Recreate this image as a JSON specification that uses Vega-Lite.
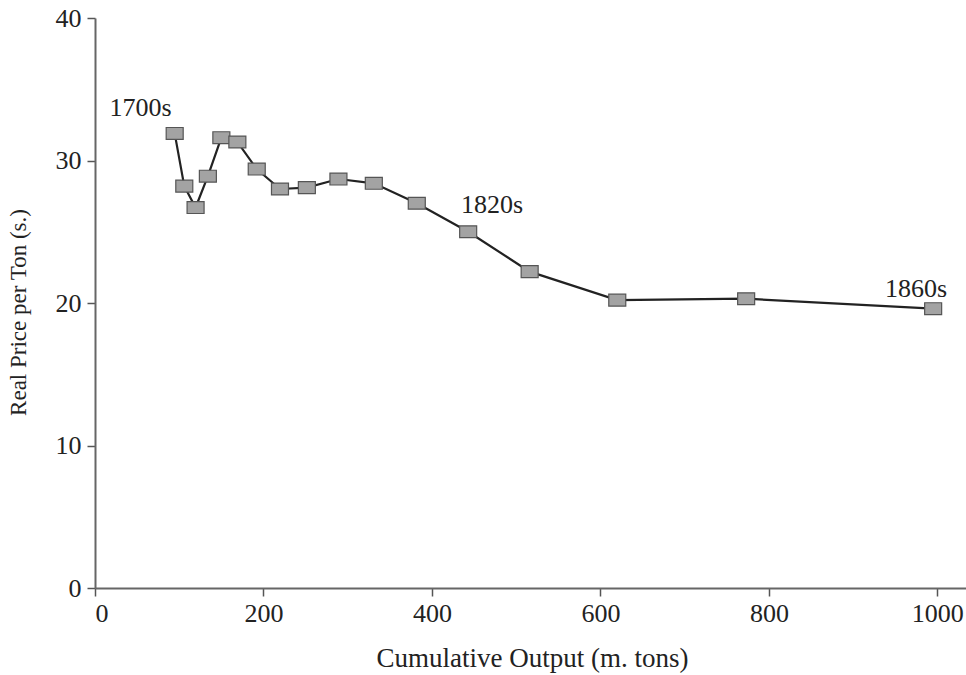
{
  "$schema": "https://vega.github.io/schema/vega-lite/v6.json",
  "autosize": {"type": "none"},
  "padding": {"left": 95, "top": 18, "right": 0, "bottom": 87},
  "width": 871,
  "height": 570,
  "background": "white",
  "config": {
    "view": {"stroke": null},
    "font": "Liberation Serif",
    "text": {"font": "Liberation Serif"},
    "axis": {
      "labelFont": "Liberation Serif",
      "titleFont": "Liberation Serif",
      "labelFontSize": 26,
      "titleFontSize": 26,
      "titleFontWeight": "normal",
      "labelColor": "#222",
      "titleColor": "#222",
      "domainColor": "#666",
      "domainWidth": 2,
      "tickColor": "#555",
      "tickWidth": 1.5,
      "tickSize": 8,
      "grid": false
    }
  },
  "data": {
    "values": [
      {"output": 94.6, "price": 31.9, "label": "1700s"},
      {"output": 106, "price": 28.2},
      {"output": 119.4, "price": 26.7},
      {"output": 134, "price": 28.9},
      {"output": 150, "price": 31.6},
      {"output": 169, "price": 31.3},
      {"output": 192, "price": 29.4},
      {"output": 219.6, "price": 28.0},
      {"output": 251.5, "price": 28.1},
      {"output": 289, "price": 28.7},
      {"output": 331, "price": 28.4},
      {"output": 382, "price": 27.0},
      {"output": 443, "price": 25.0, "label": "1820s"},
      {"output": 516, "price": 22.2},
      {"output": 620, "price": 20.2},
      {"output": 773, "price": 20.3},
      {"output": 995, "price": 19.6, "label": "1860s"}
    ]
  },
  "encoding": {
    "x": {
      "field": "output",
      "type": "quantitative",
      "scale": {"domain": [0, 1034], "nice": false, "zero": false},
      "axis": {
        "title": "Cumulative Output (m. tons)",
        "titleFontSize": 27,
        "values": [0, 200, 400, 600, 800, 1000],
        "format": "d",
        "labelPadding": 4,
        "titleX": 437,
        "titleY": 78,
        "titleBaseline": "alphabetic",
        "titleAnchor": "middle"
      }
    },
    "y": {
      "field": "price",
      "type": "quantitative",
      "scale": {"domain": [0, 40], "nice": false},
      "axis": {
        "title": "Real Price per Ton (s.)",
        "titleFontSize": 23,
        "values": [0, 10, 20, 30, 40],
        "labelPadding": 6,
        "titleX": -77,
        "titleY": 294,
        "titleAngle": -90,
        "titleBaseline": "middle",
        "titleAnchor": "middle",
        "titleAlign": "center"
      }
    }
  },
  "layer": [
    {"mark": {"type": "line", "color": "#222", "strokeWidth": 2.2}},
    {
      "mark": {
        "type": "point",
        "shape": "M-1,-0.7H1V0.7H-1Z",
        "size": 289,
        "filled": true,
        "fill": "#a3a3a3",
        "stroke": "#555",
        "strokeWidth": 1.2,
        "opacity": 1
      }
    },
    {
      "transform": [{"filter": "datum.label === '1700s'"}],
      "mark": {"type": "text", "dx": -34, "dy": -25, "fontSize": 26, "font": "Liberation Serif", "color": "#222"},
      "encoding": {"text": {"field": "label"}}
    },
    {
      "transform": [{"filter": "datum.label === '1820s'"}],
      "mark": {"type": "text", "dx": 24, "dy": -27, "fontSize": 26, "font": "Liberation Serif", "color": "#222"},
      "encoding": {"text": {"field": "label"}}
    },
    {
      "transform": [{"filter": "datum.label === '1860s'"}],
      "mark": {"type": "text", "dx": -17, "dy": -20, "fontSize": 26, "font": "Liberation Serif", "color": "#222"},
      "encoding": {"text": {"field": "label"}}
    }
  ]
}
